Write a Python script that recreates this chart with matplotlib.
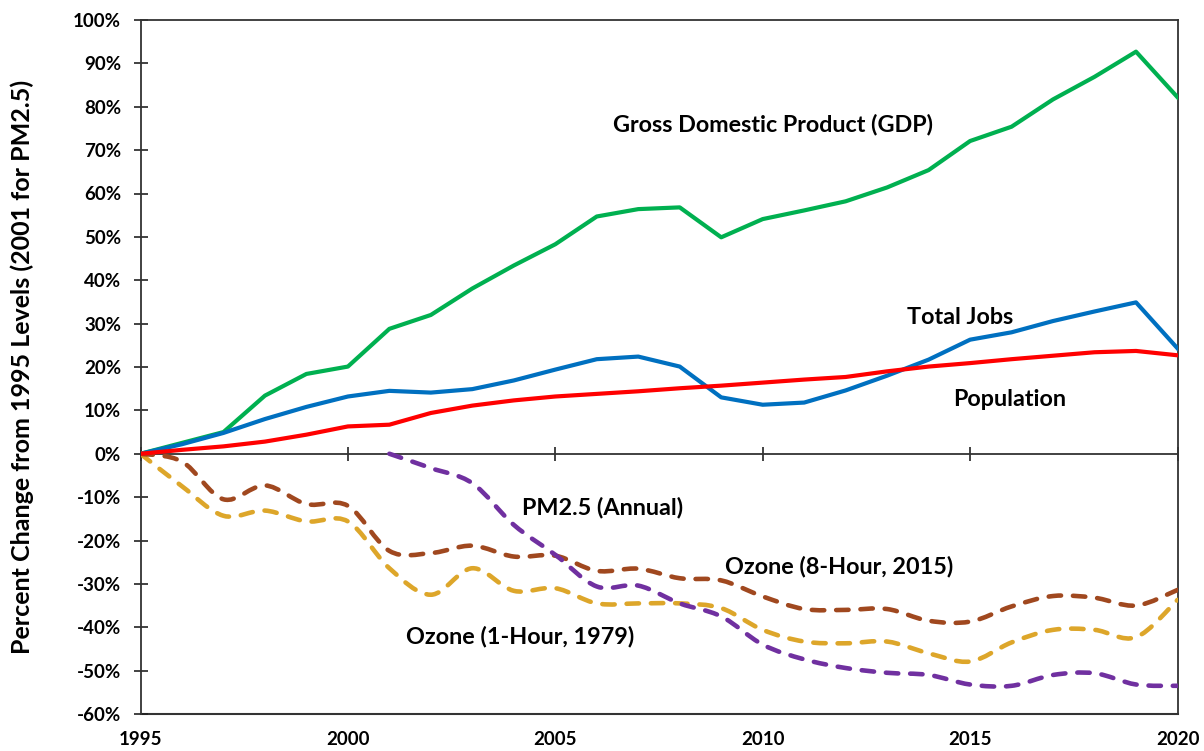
import matplotlib
matplotlib.use("Agg")
import matplotlib.pyplot as plt
import numpy as np
from matplotlib.path import Path
from matplotlib.patches import PathPatch
from matplotlib.ticker import FuncFormatter

plt.rcParams['font.family'] = ['Lato', 'DejaVu Sans']

years = list(range(1995, 2021))
gdp = [0, 2.5, 5.0, 13.4, 18.4, 20.1, 28.8, 32.0, 38.1, 43.4, 48.3, 54.7, 56.4, 56.8,
       49.9, 54.1, 56.1, 58.2, 61.4, 65.4, 72.1, 75.4, 81.7, 86.9, 92.7, 82.2]
jobs = [0, 2.2, 4.8, 8.0, 10.8, 13.2, 14.5, 14.1, 14.9, 16.9, 19.4, 21.8, 22.4, 20.1,
        13.0, 11.3, 11.8, 14.6, 18.0, 21.7, 26.3, 28.0, 30.6, 32.8, 34.9, 24.3]
population = [0, 0.9, 1.7, 2.8, 4.4, 6.3, 6.7, 9.4, 11.1, 12.3, 13.2, 13.8, 14.4, 15.1,
              15.7, 16.4, 17.1, 17.7, 19.0, 20.1, 20.9, 21.8, 22.6, 23.4, 23.7, 22.7]
ozone_8hr = [0, -1.8, -10.5, -7.3, -11.6, -12.0, -22.4, -22.9, -21.2, -23.7, -23.5, -27.0, -26.5, -28.7,
             -29.2, -32.9, -35.8, -36.0, -35.8, -38.5, -38.7, -35.2, -32.8, -33.2, -35.0, -31.4]
ozone_1hr = [0, -7.5, -14.3, -13.1, -15.6, -15.6, -26.4, -32.5, -26.4, -31.6, -31.0, -34.5, -34.5, -34.5,
             -35.6, -40.6, -43.3, -43.7, -43.3, -46.0, -47.9, -43.5, -40.6, -40.6, -42.3, -33.7]
pm25_years = list(range(2001, 2021))
pm25 = [0, -3.3, -6.8, -16.4, -23.3, -30.6, -30.4, -34.5, -37.5, -44.0, -47.4, -49.4, -50.5,
        -51.0, -53.2, -53.5, -51.0, -50.6, -53.2, -53.5]

labels = {
    "Gross Domestic Product (GDP)": (2010.25, 75.8),
    "Total Jobs": (2014.75, 31.3),
    "Population": (2015.95, 12.4),
    "PM2.5 (Annual)": (2006.15, -12.4),
    "Ozone (8-Hour, 2015)": (2011.85, -26.0),
    "Ozone (1-Hour, 1979)": (2004.15, -42.2),
}

GREEN = "#00B050"
BLUE = "#0070C0"
RED = "#FF0000"
BROWN = "#A0481F"
GOLD = "#DDA62A"
PURPLE = "#7030A0"


def smooth_path(xs, ys):
    """Bezier path through the data points (Excel-style smoothed line)."""
    xs = np.asarray(xs, float)
    ys = np.asarray(ys, float)
    n = len(xs)
    verts = [(xs[0], ys[0])]
    codes = [Path.MOVETO]
    t = 1.0 / 6.0
    for i in range(n - 1):
        x0, y0 = (xs[i - 1], ys[i - 1]) if i > 0 else (xs[i], ys[i])
        x1, y1 = xs[i], ys[i]
        x2, y2 = xs[i + 1], ys[i + 1]
        x3, y3 = (xs[i + 2], ys[i + 2]) if i + 2 < n else (x2, y2)
        c1 = (x1 + (x2 - x0) * t, y1 + (y2 - y0) * t)
        c2 = (x2 - (x3 - x1) * t, y2 - (y3 - y1) * t)
        verts += [c1, c2, (x2, y2)]
        codes += [Path.CURVE4] * 3
    return Path(verts, codes)


fig = plt.figure(figsize=(12.04, 7.51), dpi=100)
ax = fig.add_axes([140.5 / 1204, 1 - 714 / 751, (1177.5 - 140.5) / 1204, (714 - 20) / 751])

lw = 3.0
ax.plot(years, gdp, color=GREEN, lw=lw, solid_joinstyle='round', zorder=3)
ax.plot(years, jobs, color=BLUE, lw=lw, solid_joinstyle='round', zorder=3)
ax.plot(years, population, color=RED, lw=lw, solid_joinstyle='round', zorder=4)

dash_kw = dict(facecolor='none', lw=3.3, capstyle='round', joinstyle='round')
for xs, ys, c in [(years, ozone_1hr, GOLD), (years, ozone_8hr, BROWN), (pm25_years, pm25, PURPLE)]:
    p = PathPatch(smooth_path(xs, ys), edgecolor=c, linestyle=(0, (2.7, 2.6)), zorder=3, **dash_kw)
    ax.add_patch(p)

ax.set_xlim(1995, 2020)
ax.set_ylim(-60, 100)

# y axis
ax.set_yticks(np.arange(-60, 101, 10))
ax.yaxis.set_major_formatter(FuncFormatter(lambda v, p: f"{v:.0f}%"))
ax.tick_params(axis='y', direction='inout', length=10, width=1.2, labelsize=13.5, pad=9, color='#222222')
for lab in ax.get_yticklabels():
    lab.set_fontweight('bold')

# x axis: ticks on the zero line, labels at the bottom
ax.spines['bottom'].set_position(('data', 0))
ax.set_xticks([1995, 2000, 2005, 2010, 2015, 2020])
ax.tick_params(axis='x', direction='inout', length=10, width=1.2, labelbottom=False, color='#222222')
sec = ax.secondary_xaxis(0.0)
sec.set_xticks([1995, 2000, 2005, 2010, 2015, 2020])
sec.tick_params(axis='x', length=0, labelsize=13.5, pad=12)
for lab in sec.get_xticklabels():
    lab.set_fontweight('bold')

for s in ['top', 'right', 'left', 'bottom']:
    ax.spines[s].set_linewidth(1.3)
    ax.spines[s].set_color('#333333')
sec.spines['bottom'].set_linewidth(1.5)
sec.spines['bottom'].set_color('#333333')

ax.set_ylabel("Percent Change from 1995 Levels (2001 for PM2.5)", fontsize=18.0,
              fontweight='bold')
ax.yaxis.set_label_coords(-0.1025, 0.5)

for txt, (x, y) in labels.items():
    ax.text(x, y, txt, fontsize=16.8, fontweight='bold', ha='center', va='center', zorder=5)

fig.savefig("out.png", dpi=100)
